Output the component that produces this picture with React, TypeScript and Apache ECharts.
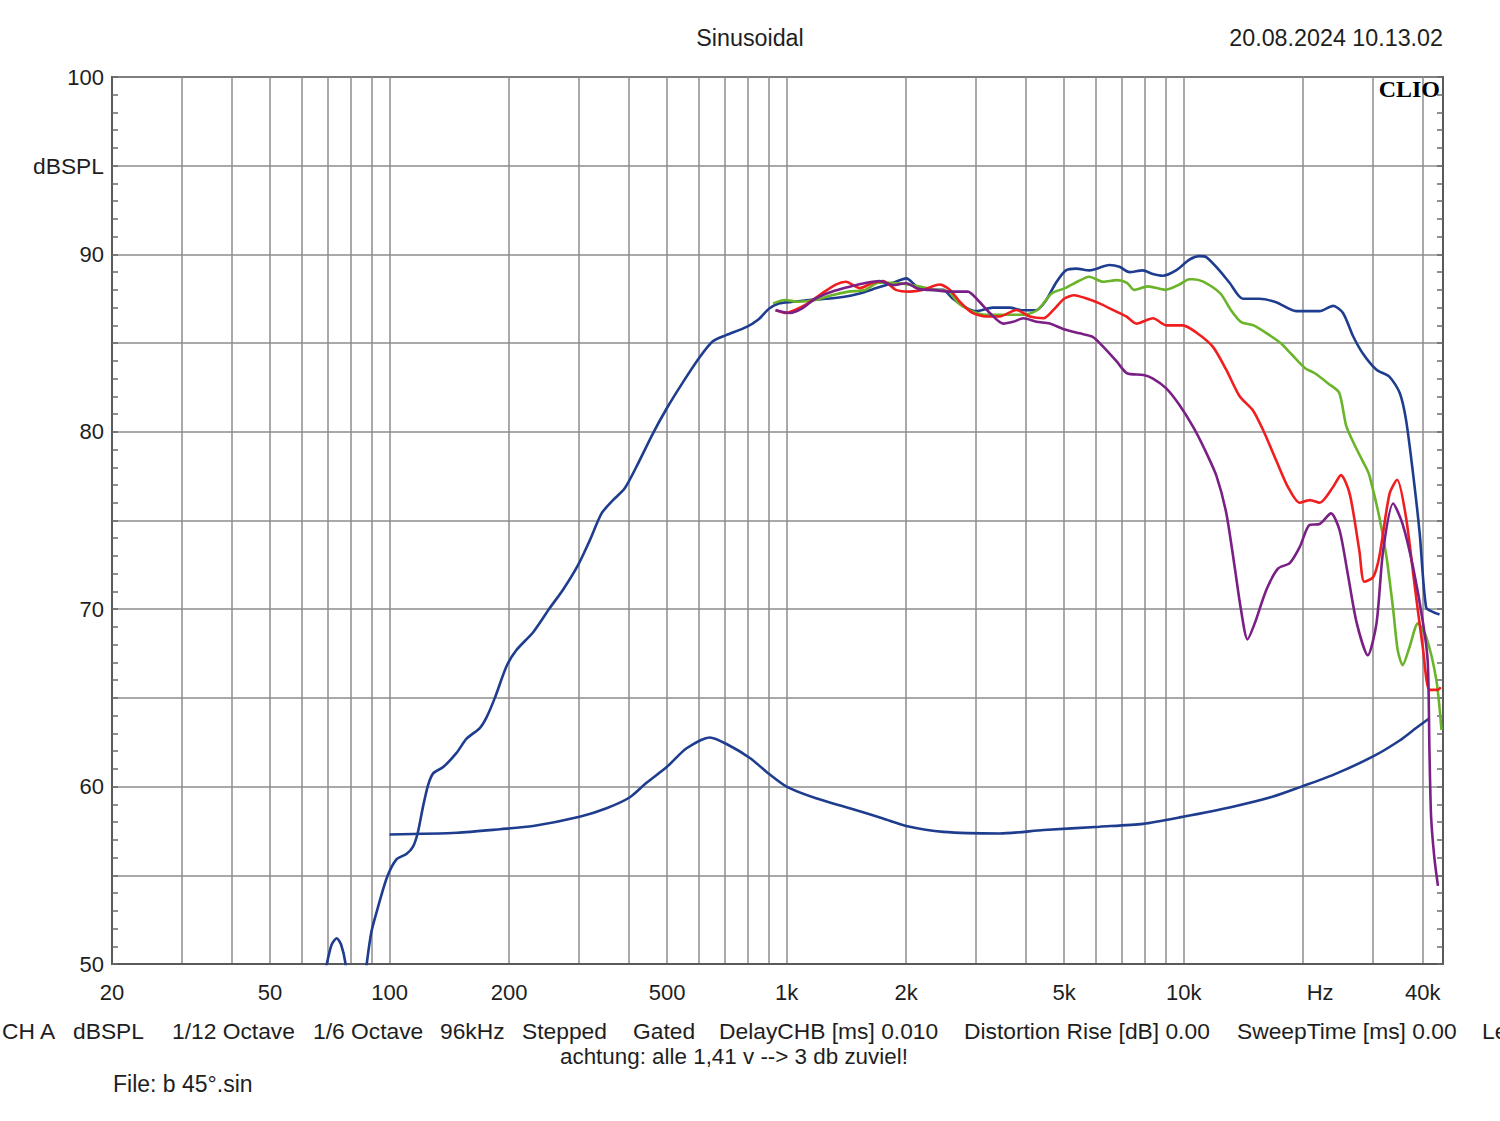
import React, { useEffect, useRef } from 'react';
import * as echarts from 'echarts';

// ---------- axis definitions ----------
const X_MIN_HZ = 20;
const X_MAX_HZ = 45000;
const Y_MIN = 50;
const Y_MAX = 100;
const Y_STEP = 5;

const gridFreqs = [
  30, 40, 50, 60, 70, 80, 90,
  100, 200, 300, 400, 500, 600, 700, 800, 900,
  1000, 2000, 3000, 4000, 5000, 6000, 7000, 8000, 9000,
  10000, 20000, 30000, 40000,
];
const xLabelFreqs = [20, 50, 100, 200, 500, 1000, 2000, 5000, 10000, 20000, 40000];
const xLabelTexts = ['20', '50', '100', '200', '500', '1k', '2k', '5k', '10k', 'Hz', '40k'];

// ---------- series data [Hz, dBSPL] ----------
const blueMain: [number, number][] = [
  [66, 47.5], [69.5, 50], [71.5, 51.1], [73.6, 51.45], [75.5, 51.1], [77.5, 50], [79.5, 47.5],
  [85, 47.5], [87.6, 50], [90, 51.8], [92.7, 52.9], [98.6, 54.9], [104.1, 55.9], [110.3, 56.2],
  [114.5, 56.6], [117.8, 57.4], [121.5, 58.9], [125.1, 60.1], [128.8, 60.75], [136.5, 61.1],
  [147.5, 61.9], [156.3, 62.7], [168.8, 63.3], [175.5, 63.9], [184.2, 65.0], [197.2, 66.8],
  [208.8, 67.7], [230, 68.7], [253, 70.05], [273.5, 71.1], [298.6, 72.5], [319.7, 73.9],
  [342, 75.4], [365.5, 76.15], [390.8, 76.8], [418, 78.0], [460.5, 79.9], [498.5, 81.3],
  [548.5, 82.8], [604, 84.2], [652, 85.1], [704.5, 85.45], [791, 85.9], [846, 86.3],
  [906, 86.96], [960, 87.24], [1037, 87.33], [1143, 87.43], [1259, 87.5], [1387, 87.6],
  [1528, 87.8], [1683, 88.1], [1854, 88.4], [2003, 88.65], [2124, 88.2], [2251, 88.0],
  [2478, 88.0], [2624, 87.5], [2830, 87.0], [3000, 86.8], [3305, 87.0], [3640, 87.0],
  [3930, 86.85], [4245, 86.85], [4500, 87.4], [4770, 88.4], [5050, 89.1], [5360, 89.2],
  [5790, 89.1], [6500, 89.4], [6890, 89.3], [7300, 89.0], [7890, 89.1], [8360, 88.9],
  [8860, 88.8], [9570, 89.1], [10340, 89.7], [10960, 89.9], [11400, 89.85], [12300, 89.1],
  [13050, 88.4], [14100, 87.5], [15500, 87.5], [17100, 87.3], [19200, 86.8], [22000, 86.8],
  [23800, 87.1], [25200, 86.7], [26700, 85.4], [28300, 84.4], [30600, 83.5], [33000, 83.1],
  [35000, 82.2], [36300, 80.7], [37800, 77.7], [39300, 74.3], [40800, 70.1], [42400, 69.85],
  [44100, 69.7],
];

const green: [number, number][] = [
  [925, 87.24], [990, 87.43], [1072, 87.33], [1180, 87.43], [1300, 87.7], [1432, 87.9],
  [1577, 88.0], [1704, 88.4], [1840, 88.4], [2027, 88.3], [2150, 88.2], [2370, 88.0],
  [2560, 87.9], [2710, 87.24], [2930, 86.8], [3160, 86.6], [3410, 86.6], [3690, 86.6],
  [3980, 86.6], [4300, 86.9], [4650, 87.8], [5030, 88.1], [5440, 88.5], [5780, 88.74],
  [6270, 88.46], [6790, 88.55], [7200, 88.4], [7500, 88.0], [8130, 88.2], [8990, 88.0],
  [9760, 88.3], [10330, 88.6], [10550, 88.6], [11200, 88.46], [12370, 87.8], [13120, 86.9],
  [13930, 86.2], [15000, 86.0], [16200, 85.55], [17550, 85.0], [18640, 84.4], [20190, 83.6],
  [21400, 83.3], [23200, 82.7], [24650, 82.2], [25700, 80.3], [27300, 79.0], [29000, 77.85],
  [29400, 77.5], [31100, 75.2], [32400, 73.0], [33700, 70.0], [34600, 67.7], [35600, 66.85],
  [37100, 67.9], [38900, 69.2], [40800, 68.45], [43300, 66.0], [44600, 63.2],
];

const red: [number, number][] = [
  [938, 86.87], [997, 86.7], [1050, 86.87], [1115, 87.15], [1228, 87.8], [1330, 88.3],
  [1410, 88.46], [1528, 88.1], [1650, 88.4], [1750, 88.5], [1885, 88.0], [2040, 87.9],
  [2200, 88.0], [2430, 88.3], [2580, 88.0], [2730, 87.33], [2940, 86.7], [3180, 86.5],
  [3440, 86.5], [3790, 86.87], [4100, 86.5], [4440, 86.4], [4700, 86.87], [5000, 87.5],
  [5300, 87.7], [5720, 87.5], [6140, 87.24], [6630, 86.87], [7170, 86.5], [7600, 86.1],
  [8370, 86.4], [9040, 86.0], [9960, 86.0], [10760, 85.6], [11840, 84.8], [12800, 83.5],
  [13840, 82.0], [14950, 81.2], [15850, 80.1], [17100, 78.4], [18300, 76.9], [19600, 76.0],
  [20800, 76.15], [22000, 76.0], [23800, 76.9], [24900, 77.56], [26200, 76.5], [27700, 73.3],
  [28500, 71.55], [30000, 71.8], [31100, 72.96], [33000, 76.5], [34500, 77.3], [36300, 75.2],
  [38100, 71.5], [40100, 67.7], [41600, 65.45], [43700, 65.45], [44400, 65.6],
];

const purple: [number, number][] = [
  [938, 86.85], [1019, 86.7], [1095, 86.96], [1180, 87.5], [1300, 87.9], [1442, 88.18],
  [1590, 88.4], [1716, 88.5], [1850, 88.27], [2000, 88.37], [2160, 88.03], [2330, 88.0],
  [2580, 87.9], [2860, 87.9], [3030, 87.43], [3250, 86.7], [3510, 86.1], [3720, 86.2],
  [3950, 86.4], [4260, 86.2], [4600, 86.1], [4970, 85.8], [5470, 85.55], [5890, 85.36],
  [6270, 84.8], [6790, 83.95], [7200, 83.3], [7920, 83.2], [8370, 83.0], [9040, 82.45],
  [9770, 81.5], [10550, 80.3], [11300, 79.0], [12100, 77.5], [12810, 75.4], [13440, 72.4],
  [13950, 69.95], [14480, 68.3], [15100, 69.2], [16160, 71.1], [17300, 72.3], [18500, 72.6],
  [19600, 73.5], [20760, 74.75], [22000, 74.8], [23500, 75.4], [24700, 74.45], [25900, 72.0],
  [27300, 69.2], [29100, 67.4], [30600, 69.2], [31800, 73.3], [33700, 75.96], [35600, 74.8],
  [37800, 72.4], [40100, 69.2], [41200, 67.0], [41600, 62.0], [42000, 58.3], [42800, 56.0],
  [43700, 54.4],
];

const blueLower: [number, number][] = [
  [100, 57.3], [148, 57.4], [190, 57.6], [230, 57.78], [301, 58.3], [352, 58.78],
  [403, 59.4], [443, 60.2], [499, 61.1], [560, 62.16], [641, 62.77], [706, 62.4],
  [810, 61.6], [889, 60.84], [1000, 60.0], [1186, 59.34], [1442, 58.78], [1750, 58.2],
  [2000, 57.78], [2480, 57.45], [3440, 57.36], [4440, 57.55], [6140, 57.74], [7900, 57.9],
  [9960, 58.3], [13300, 58.87], [16800, 59.44], [19800, 60.0], [23800, 60.66], [30000, 61.7],
  [35000, 62.6], [38500, 63.3], [41600, 63.85],
];

// ---------- texts ----------
const titleText = 'Sinusoidal';
const dateText = '20.08.2024 10.13.02';
const brandText = 'CLIO';
const infoItems = [
  'CH A', 'dBSPL', '1/12 Octave', '1/6 Octave', '96kHz', 'Stepped', 'Gated',
  'DelayCHB [ms] 0.010', 'Distortion Rise [dB] 0.00', 'SweepTime [ms] 0.00', 'Legend',
];
const noteText = 'achtung: alle 1,41 v --> 3 db zuviel!';
const fileText = 'File: b 45°.sin';

const FONT = '"Liberation Sans", Arial, sans-serif';
const TXT = '#1e1e1e';
const GRIDC = '#8c8c8c';

const toXY = (d: [number, number][]) => d.map(([f, v]) => [Math.log10(f), v]);

export default function App() {
  const ref = useRef<HTMLDivElement>(null);

  useEffect(() => {
    document.body.style.margin = '0';
    if (!ref.current) return;
    const chart = echarts.init(ref.current, undefined, { renderer: 'svg' });

    const lineSeries = (name: string, data: [number, number][], color: string, z: number) => ({
      name,
      type: 'line',
      data: toXY(data),
      showSymbol: false,
      symbol: 'none',
      smooth: 0.25,
      clip: true,
      z,
      lineStyle: { color, width: 2.6 },
    });

    const infoX = [2, 73, 172, 313, 440, 522, 633, 719, 964, 1237, 1482];

    chart.setOption({
      animation: false,
      backgroundColor: '#ffffff',
      grid: {
        left: 112, right: 57, top: 77, bottom: 157,
        show: true, borderColor: '#5a5a5a', borderWidth: 2, backgroundColor: 'transparent',
      },
      xAxis: {
        type: 'value',
        min: Math.log10(X_MIN_HZ),
        max: Math.log10(X_MAX_HZ),
        axisLine: { show: true, lineStyle: { color: '#5a5a5a', width: 2 } },
        axisTick: { show: false, customValues: gridFreqs.map((f) => Math.log10(f)) },
        splitLine: { show: true, lineStyle: { color: GRIDC, width: 1.5 } },
        axisLabel: {
          customValues: xLabelFreqs.map((f) => Math.log10(f)),
          formatter: (v: number) => {
            const i = xLabelFreqs.findIndex((f) => Math.abs(Math.log10(f) - v) < 1e-6);
            if (i < 0) return '';
            const t = xLabelTexts[i];
            return t === 'Hz' ? '{hz|Hz}' : t;
          },
          rich: { hz: { padding: [0, 0, 0, 34], fontSize: 22, fontFamily: FONT, color: TXT } },
          fontSize: 22, fontFamily: FONT, color: TXT, margin: 17,
        },
      },
      yAxis: [
        {
          type: 'value', min: Y_MIN, max: Y_MAX, interval: Y_STEP,
          axisLine: { show: true, lineStyle: { color: '#5a5a5a', width: 2 } },
          axisTick: { show: true, inside: true, length: 6, lineStyle: { color: '#6a6a6a', width: 1.5 } },
          minorTick: { show: true, splitNumber: 5, length: 6, lineStyle: { color: '#6a6a6a', width: 1.5 } },
          splitLine: { show: true, lineStyle: { color: GRIDC, width: 1.5 } },
          axisLabel: {
            formatter: (v: number) => (v === 95 ? '{u|dBSPL}' : v % 10 === 0 ? String(v) : ''),
            rich: { u: { fontSize: 22.8, fontFamily: FONT, color: TXT } },
            fontSize: 22, fontFamily: FONT, color: TXT, margin: 8,
          },
        },
        {
          type: 'value', min: Y_MIN, max: Y_MAX, interval: Y_STEP, position: 'right',
          axisLine: { show: true, lineStyle: { color: '#5a5a5a', width: 2 } },
          axisTick: { show: true, inside: true, length: 6, lineStyle: { color: '#6a6a6a', width: 1.5 } },
          minorTick: { show: true, splitNumber: 5, length: 6, lineStyle: { color: '#6a6a6a', width: 1.5 } },
          splitLine: { show: false },
          axisLabel: { show: false },
        },
      ],
      series: [
        lineSeries('lower', blueLower, '#1f3d8f', 3),
        lineSeries('main', blueMain, '#1f3d8f', 4),
        lineSeries('green', green, '#6ab42a', 5),
        lineSeries('red', red, '#f01e1e', 6),
        lineSeries('purple', purple, '#7a1f85', 7),
      ],
      graphic: [
        { type: 'text', left: 'center', top: 26, style: { text: titleText, font: `23.3px ${FONT}`, fill: TXT } },
        { type: 'text', right: 57, top: 26, style: { text: dateText, font: `23.3px ${FONT}`, fill: TXT } },
        { type: 'text', right: 60, top: 77, z: 100, style: { text: brandText, font: `bold 24px "Liberation Serif", "Times New Roman", serif`, fill: '#000' } },
        ...infoItems.map((t, i) => ({
          type: 'text', left: infoX[i], top: 1019, style: { text: t, font: `22.8px ${FONT}`, fill: TXT },
        })),
        { type: 'text', left: 560, top: 1045, style: { text: noteText, font: `22.4px ${FONT}`, fill: TXT } },
        { type: 'text', left: 113, top: 1072, style: { text: fileText, font: `23px ${FONT}`, fill: TXT } },
      ],
    });

    return () => chart.dispose();
  }, []);

  return <div ref={ref} style={{ width: 1500, height: 1121 }} />;
}
